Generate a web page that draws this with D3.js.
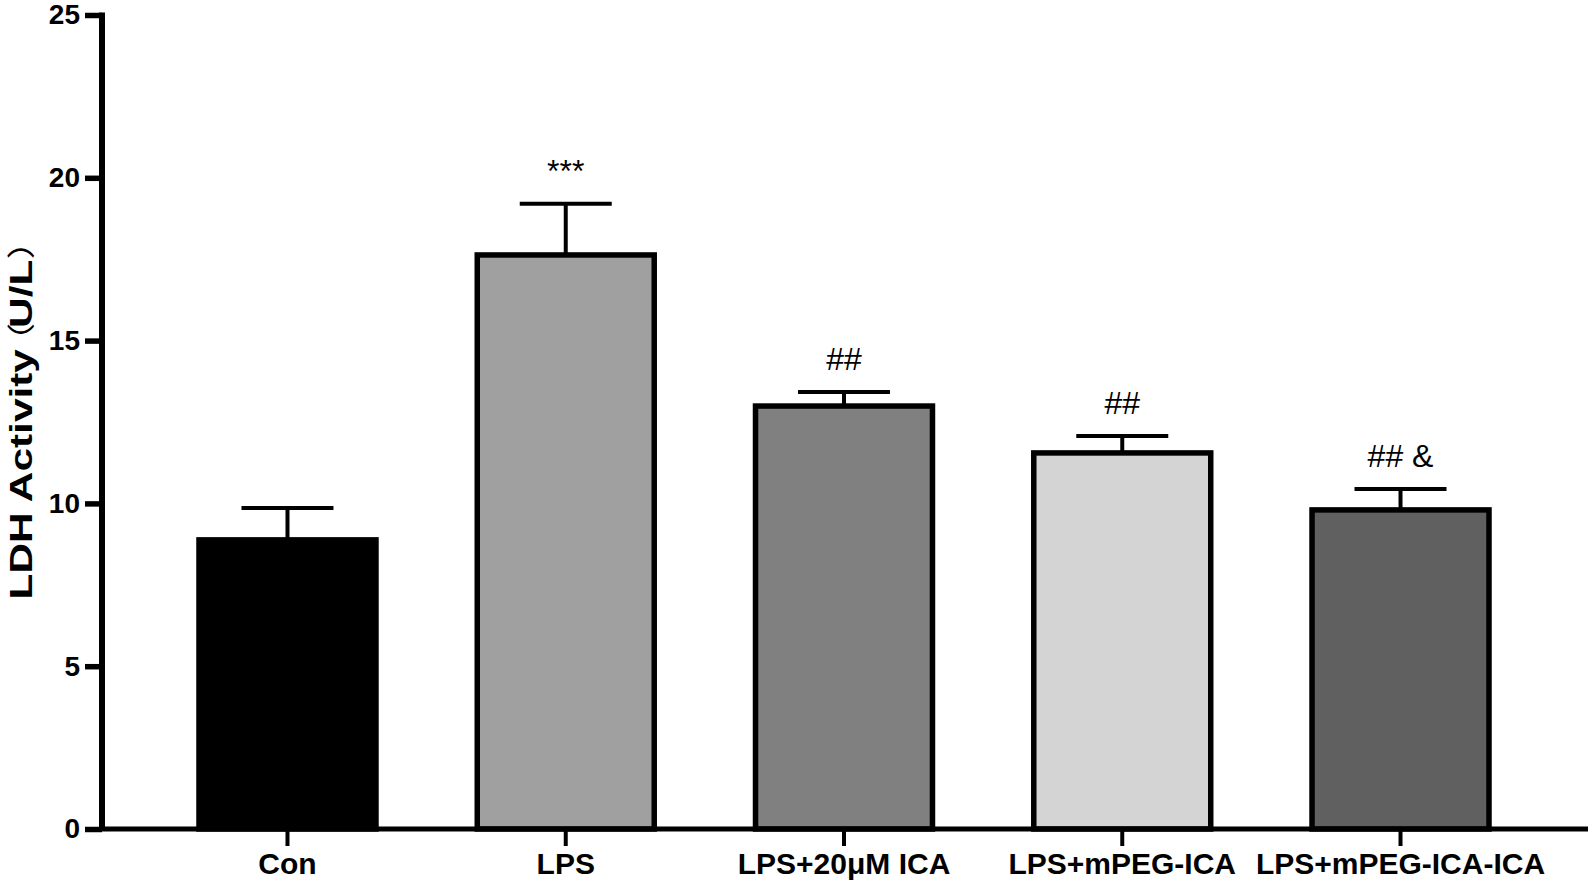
<!DOCTYPE html>
<html>
<head>
<meta charset="utf-8">
<script src="https://cdn.jsdelivr.net/npm/d3@7"></script>
<style>
  body { margin: 0; background: #fff; }
  svg { display: block; font-family: "Liberation Sans", Arial, sans-serif; }
</style>
</head>
<body>
<svg id="chart" width="1593" height="882"></svg>
<script>
// data
const groups = ["Con", "LPS", "LPS+20μM ICA", "LPS+mPEG-ICA", "LPS+mPEG-ICA-ICA"];
const means = [8.88, 17.63, 12.99, 11.55, 9.80];
const errs = [0.98, 1.57, 0.43, 0.52, 0.64];
const marks = ["", "***", "##", "##", "## &"];
const fills = ["#000000", "#a0a0a0", "#808080", "#d4d4d4", "#606060"];
const yTicks = [0, 5, 10, 15, 20, 25];

const svg = d3.select("#chart");
const axisX = 102, axisEnd = 1588;

const x = d3.scaleBand()
    .domain(groups)
    .range([199, 1489])
    .paddingInner(0.364)
    .paddingOuter(0);

const y = d3.scaleLinear()
    .domain([0, 25])
    .range([829, 15]);

// bars
svg.append("g")
    .selectAll("rect")
    .data(groups)
    .enter().append("rect")
    .attr("x", d => x(d))
    .attr("y", (d, i) => y(means[i]))
    .attr("width", x.bandwidth())
    .attr("height", (d, i) => y(0) - y(means[i]))
    .attr("fill", (d, i) => fills[i])
    .attr("stroke", "#000")
    .attr("stroke-width", 5.5);

// error bars (upper only)
const eb = svg.append("g").attr("stroke", "#000");
groups.forEach((g, i) => {
    const cx = x(g) + x.bandwidth() / 2;
    const top = y(means[i] + errs[i]);
    eb.append("line")
        .attr("stroke-width", 4)
        .attr("x1", cx).attr("x2", cx)
        .attr("y1", y(means[i])).attr("y2", top);
    eb.append("line")
        .attr("stroke-width", 4)
        .attr("x1", cx - 46).attr("x2", cx + 46)
        .attr("y1", top).attr("y2", top);
});

// significance marks
svg.append("g")
    .selectAll("text")
    .data(groups)
    .enter().append("text")
    .attr("x", d => x(d) + x.bandwidth() / 2)
    .attr("y", (d, i) => y(means[i] + errs[i]) - 22)
    .attr("text-anchor", "middle")
    .attr("font-size", 32)
    .text((d, i) => marks[i]);

// y axis
const yAxis = svg.append("g")
    .attr("transform", `translate(${axisX},0)`)
    .call(d3.axisLeft(y).tickValues(yTicks).tickSize(17).tickPadding(5));
yAxis.select(".domain").attr("stroke-width", 6).attr("d", `M0,${y(25) - 2.5}V${y(0)}`);
yAxis.selectAll(".tick line").attr("stroke-width", 5.5);
yAxis.selectAll(".tick text")
    .attr("font-size", 28).attr("font-weight", "bold").attr("fill", "#000")
    .attr("font-family", "Liberation Sans, Arial, sans-serif");

// x axis
const xAxis = svg.append("g")
    .attr("transform", `translate(0,${y(0)})`)
    .call(d3.axisBottom(x).tickSize(17).tickPadding(7));
xAxis.select(".domain").attr("stroke-width", 5).attr("d", `M${axisX - 3},0H${axisEnd}`);
xAxis.selectAll(".tick line").attr("stroke-width", 4);
xAxis.selectAll(".tick text")
    .attr("font-size", 30).attr("font-weight", "bold").attr("fill", "#000")
    .attr("font-family", "Liberation Sans, Arial, sans-serif");

// y label (full-width brackets drawn in a CJK font)
const yl = svg.append("text")
    .attr("transform", "translate(32,411) rotate(-90)")
    .attr("text-anchor", "middle")
    .attr("font-size", 32)
    .attr("font-weight", "bold")
    .attr("textLength", 377)
    .attr("lengthAdjust", "spacingAndGlyphs");
yl.append("tspan").text("LDH Activity");
yl.append("tspan").attr("font-family", "Noto Sans CJK SC").attr("font-size", 28)
    .attr("font-weight", "normal").attr("dx", -8).text("（");
yl.append("tspan").attr("dx", -4).text("U/L");
yl.append("tspan").attr("font-family", "Noto Sans CJK SC").attr("font-size", 28)
    .attr("font-weight", "normal").text("）");
</script>
</body>
</html>
